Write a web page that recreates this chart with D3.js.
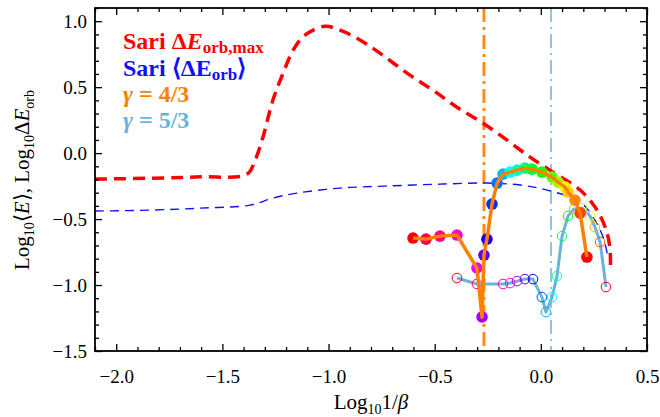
<!DOCTYPE html>
<html><head><meta charset="utf-8">
<script src="https://cdn.jsdelivr.net/npm/d3@7"></script>
<style>body{margin:0;background:#fff}svg{display:block}</style>
</head><body>
<svg id="c" width="660" height="417"></svg>
<script>
// ---------- data ----------
const sariMaxX = [-2.1,-1.84,-1.605,-1.384,-1.346,-1.309,-1.262,-1.214,-1.167,-1.111,-1.017,-0.946,-0.866,-0.758,-0.630,-0.508,-0.395,-0.272,-0.159,-0.051,0.057,0.185,0.265,0.312,0.326,0.328];
const sariMaxY = [-0.197,-0.19,-0.18,-0.159,-0.053,0.121,0.402,0.606,0.780,0.894,0.962,0.932,0.871,0.758,0.606,0.477,0.348,0.227,0.098,-0.030,-0.144,-0.280,-0.432,-0.606,-0.735,-0.864];
const sariMeanX = [-2.1,-1.84,-1.605,-1.37,-1.262,-1.149,-0.946,-0.734,-0.475,-0.254,-0.098,0.029,0.185,0.246,0.293,0.316];
const sariMeanY = [-0.439,-0.432,-0.417,-0.394,-0.341,-0.303,-0.265,-0.25,-0.235,-0.227,-0.242,-0.28,-0.371,-0.485,-0.636,-0.788];
const g43X = [-0.602,-0.541,-0.475,-0.395,-0.301,-0.277,-0.268,-0.254,-0.230,-0.206,-0.178,-0.145,-0.112,-0.075,-0.042,0.005,0.053,0.081,0.114,0.128,0.161,0.185,0.217];
const g43Y = [-0.644,-0.652,-0.629,-0.621,-0.871,-1.242,-0.773,-0.652,-0.386,-0.227,-0.159,-0.144,-0.129,-0.114,-0.121,-0.144,-0.182,-0.220,-0.258,-0.295,-0.356,-0.455,-0.788];
const g53X = [-0.395,-0.301,-0.178,-0.145,-0.112,-0.075,-0.037,0.005,0.024,0.053,0.076,0.100,0.128,0.156,0.194,0.232,0.255,0.279,0.307];
const g53Y = [-0.947,-0.992,-0.992,-0.985,-0.970,-0.955,-0.955,-1.091,-1.205,-1.091,-0.932,-0.629,-0.477,-0.424,-0.417,-0.477,-0.561,-0.674,-1.015];
const vline43 = -0.268;
const vline53 = 0.048;
const xTicks = [-2.0,-1.5,-1.0,-0.5,0.0,0.5];
const yTicks = [-1.5,-1.0,-0.5,0.0,0.5,1.0];

// ---------- layout ----------
const L = 95, R = 647, T = 8, B = 351;
const svg = d3.select('#c');
const x = d3.scaleLinear().domain([-2.1, 0.5]).range([L, R]);
const y = d3.scaleLinear().domain([-1.5, 1.1]).range([B, T]);
const FONT = '"Liberation Serif","Times New Roman",serif';
const zip = (a, b) => a.map((v, i) => [v, b[i]]);
const line = d3.line().x(d => x(d[0])).y(d => y(d[1]));

svg.append('defs').append('clipPath').attr('id', 'cp')
  .append('rect').attr('x', L).attr('y', T).attr('width', R - L).attr('height', B - T);
const plot = svg.append('g').attr('clip-path', 'url(#cp)');

// vertical reference lines
plot.append('line').attr('x1', x(vline43)).attr('x2', x(vline43)).attr('y1', T).attr('y2', B)
  .attr('stroke', '#ff8c1a').attr('stroke-width', 3).attr('stroke-dasharray', '14,5,3,5');
plot.append('line').attr('x1', x(vline53)).attr('x2', x(vline53)).attr('y1', T).attr('y2', B)
  .attr('stroke', '#6ab4dc').attr('stroke-width', 1.5).attr('stroke-dasharray', '14,5,2,5');

// Sari curves
plot.append('path').datum(zip(sariMaxX, sariMaxY))
  .attr('d', line.curve(d3.curveCatmullRom.alpha(0.5)))
  .attr('fill', 'none').attr('stroke', '#ff0000').attr('stroke-width', 3.5).attr('stroke-dasharray', '12,7');
plot.append('path').datum(zip(sariMeanX, sariMeanY))
  .attr('d', line.curve(d3.curveCatmullRom.alpha(0.5)))
  .attr('fill', 'none').attr('stroke', '#1010ff').attr('stroke-width', 1.4).attr('stroke-dasharray', '9,6');

const hueColor = (i, n) => d3.hsl(360 * (1 - i / (n - 1)), 1, 0.5).toString();

// gamma 5/3 (open circles)
plot.append('path').datum(zip(g53X, g53Y)).attr('d', line.curve(d3.curveLinear))
  .attr('fill', 'none').attr('stroke', '#6ab4dc').attr('stroke-width', 3).attr('stroke-linejoin', 'round');
plot.selectAll('.o53').data(zip(g53X, g53Y)).enter().append('circle')
  .attr('cx', d => x(d[0])).attr('cy', d => y(d[1])).attr('r', 4.8)
  .attr('fill', 'none').attr('stroke', (d, i) => hueColor(i, g53X.length)).attr('stroke-width', 1);

// gamma 4/3 (filled circles)
plot.selectAll('.o43').data(zip(g43X, g43Y)).enter().append('circle')
  .attr('cx', d => x(d[0])).attr('cy', d => y(d[1])).attr('r', 5.8)
  .attr('fill', (d, i) => hueColor(i, g43X.length));
plot.append('path').datum(zip(g43X, g43Y)).attr('d', line.curve(d3.curveLinear))
  .attr('fill', 'none').attr('stroke', '#ff8000').attr('stroke-width', 3.5).attr('stroke-linejoin', 'round');

// ---------- axes ----------
const fmt = d3.format('.1f');
const minorX = d3.range(-21, 6).map(v => v / 10).filter(v => Math.abs(v * 2 - Math.round(v * 2)) > 1e-6);
const minorY = d3.range(-15, 12).map(v => v / 10).filter(v => Math.abs(v * 2 - Math.round(v * 2)) > 1e-6);

function styleAxis(g) {
  g.select('.domain').remove();
  g.selectAll('line').attr('stroke', '#000').attr('stroke-width', 1.3);
  g.selectAll('text').attr('font-family', FONT).attr('font-size', 19).attr('fill', '#000');
}
svg.append('g').attr('transform', `translate(0,${B})`)
  .call(d3.axisBottom(x).tickValues(xTicks).tickFormat(fmt).tickSize(-7).tickPadding(19)).call(styleAxis);
svg.append('g').attr('transform', `translate(0,${B})`)
  .call(d3.axisBottom(x).tickValues(minorX).tickFormat('').tickSize(-4)).call(styleAxis);
svg.append('g').attr('transform', `translate(0,${T})`)
  .call(d3.axisTop(x).tickValues(xTicks).tickFormat('').tickSize(-7)).call(styleAxis);
svg.append('g').attr('transform', `translate(0,${T})`)
  .call(d3.axisTop(x).tickValues(minorX).tickFormat('').tickSize(-4)).call(styleAxis);
svg.append('g').attr('transform', `translate(${L},0)`)
  .call(d3.axisLeft(y).tickValues(yTicks).tickFormat(fmt).tickSize(-7).tickPadding(8)).call(styleAxis);
svg.append('g').attr('transform', `translate(${L},0)`)
  .call(d3.axisLeft(y).tickValues(minorY).tickFormat('').tickSize(-4)).call(styleAxis);
svg.append('g').attr('transform', `translate(${R},0)`)
  .call(d3.axisRight(y).tickValues(yTicks).tickFormat('').tickSize(-7)).call(styleAxis);
svg.append('g').attr('transform', `translate(${R},0)`)
  .call(d3.axisRight(y).tickValues(minorY).tickFormat('').tickSize(-4)).call(styleAxis);

svg.append('rect').attr('x', L).attr('y', T).attr('width', R - L).attr('height', B - T)
  .attr('fill', 'none').attr('stroke', '#000').attr('stroke-width', 1.8);

// ---------- titles ----------
function rich(t, parts) {
  parts.forEach(p => {
    const s = t.append('tspan').text(p.t);
    if (p.i) s.attr('font-style', 'italic');
    if (p.sub) s.attr('font-size', p.sub).attr('dy', p.dy);
    else if (p.dy) s.attr('dy', p.dy);
  });
}
const xt = svg.append('text').attr('x', 371).attr('y', 409).attr('text-anchor', 'middle')
  .attr('font-family', FONT).attr('font-size', 21);
rich(xt, [{t: 'Log'}, {t: '10', sub: 14, dy: 5}, {t: '1/', dy: -5}, {t: 'β', i: true}]);

const yt = svg.append('text').attr('transform', 'translate(29,180) rotate(-90)').attr('text-anchor', 'middle')
  .attr('font-family', FONT).attr('font-size', 21);
rich(yt, [{t: 'Log'}, {t: '10', sub: 14, dy: 5}, {t: '⟨', dy: -5}, {t: 'E', i: true}, {t: '⟩, Log'},
  {t: '10', sub: 14, dy: 5}, {t: 'Δ', dy: -5}, {t: 'E', i: true}, {t: 'orb', sub: 14, dy: 5}]);

// ---------- legend ----------
const leg = [
  {c: '#ff0000', y: 49, parts: [{t: 'Sari Δ'}, {t: 'E', i: true}, {t: 'orb,max', sub: 17, dy: 4}]},
  {c: '#1010ff', y: 75.5, parts: [{t: 'Sari ⟨ΔE'}, {t: 'orb', sub: 17, dy: 4}, {t: '⟩', dy: -4}]},
  {c: '#ff8000', y: 102, parts: [{t: 'γ', i: true}, {t: ' = 4/3'}]},
  {c: '#6ab4dc', y: 128, parts: [{t: 'γ', i: true}, {t: ' = 5/3'}]}
];
leg.forEach(l => {
  const t = svg.append('text').attr('x', 123).attr('y', l.y).attr('fill', l.c)
    .attr('font-family', FONT).attr('font-size', 24).attr('font-weight', 'bold');
  rich(t, l.parts);
});
</script>
</body></html>
